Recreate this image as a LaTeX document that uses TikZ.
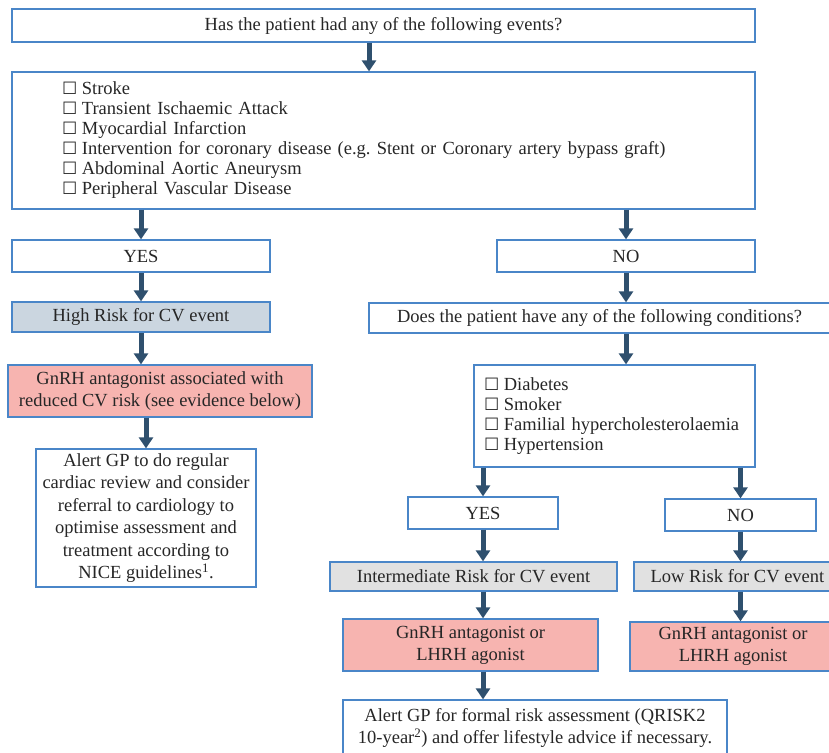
\documentclass[tikz,border=0pt]{standalone}
\usepackage{fontspec}
\setmainfont{Liberation Serif}
\newfontfamily\ballotfont{DejaVu Sans}[Scale=0.92]
\usepackage{xcolor}
\usepackage{tikz}
\usetikzlibrary{arrows.meta}

\definecolor{edgeblue}{HTML}{4A86C8}
\definecolor{flowblue}{HTML}{2F506E}
\definecolor{highfill}{HTML}{CBD6E0}
\definecolor{drugfill}{HTML}{F7B4B0}
\definecolor{midfill}{HTML}{E1E1E1}
\newcommand{\cbx}{{\ballotfont\char"2610}\hspace{0.25em}}
\frenchspacing

\begin{document}
\begin{tikzpicture}[x=1pt, y=-1pt,
    font=\fontsize{18.5}{22}\selectfont,
    box/.style={draw=edgeblue, line width=1.3pt, inner sep=0pt, text=black!85, align=center},
    listbox/.style={box, align=left, font=\fontsize{18.5}{20}\selectfont},
    flow/.style={-{Triangle[length=11pt,width=14pt]}, draw=flowblue, line width=5pt}]
  \useasboundingbox (0,0) rectangle (829,752);
  % left branch: previous events
  \node[box, minimum width=743, minimum height=33] (q1) at (383.5,25.5)
        {Has the patient had any of the following events?};
  \node[listbox, inner xsep=50pt, text width=643pt, minimum height=137] (events) at (383.5,140.5)
        {\cbx Stroke\\
         \cbx Transient Ischaemic Attack\\
         \cbx Myocardial Infarction\\
         \cbx Intervention for coronary disease (e.g. Stent or Coronary artery bypass graft)\\
         \cbx Abdominal Aortic Aneurysm\\
         \cbx Peripheral Vascular Disease};
  \node[box, minimum width=258, minimum height=32] (yes1) at (141,256) {YES};
  \node[box, minimum width=258, minimum height=32] (no1) at (626,256) {NO};
  \node[box, fill=highfill, minimum width=258, minimum height=30] (high) at (141,317)
        {High Risk for CV event};
  \node[box, fill=drugfill, minimum width=304, minimum height=52] (gnrh1) at (160,391)
        {GnRH antagonist associated with\\reduced CV risk (see evidence below)};
  \node[box, minimum width=220, minimum height=138, font=\fontsize{18.5}{22.5}\selectfont] (alert1) at (146,518)
        {Alert GP to do regular\\cardiac review and consider\\referral to cardiology to\\optimise assessment and\\treatment according to\\NICE guidelines\textsuperscript{1}.};
  % right branch: risk factors
  \node[box, minimum width=461, minimum height=30] (q2) at (599.5,318)
        {Does the patient have any of the following conditions?};
  \node[listbox, inner xsep=10pt, text width=261pt, minimum height=102] (cond) at (614.5,416)
        {\cbx Diabetes\\
         \cbx Smoker\\
         \cbx Familial hypercholesterolaemia\\
         \cbx Hypertension};
  \node[box, minimum width=150, minimum height=32] (yes2) at (483,513) {YES};
  \node[box, minimum width=151, minimum height=32] (no2) at (740.5,515) {NO};
  \node[box, fill=midfill, minimum width=287, minimum height=29] (inter) at (473.5,576.5)
        {Intermediate Risk for CV event};
  \node[box, fill=midfill, minimum width=207, minimum height=29] (low) at (737.5,576.5)
        {Low Risk for CV event};
  \node[box, fill=drugfill, minimum width=255, minimum height=52] (gnrh2) at (470.5,645)
        {GnRH antagonist or\\LHRH agonist};
  \node[box, fill=drugfill, minimum width=206, minimum height=49] (gnrh3) at (733,646.5)
        {GnRH antagonist or\\LHRH agonist};
  \node[box, minimum width=384, minimum height=56] (alert2) at (535,728)
        {Alert GP for formal risk assessment (QRISK2\\10-year\textsuperscript{2}) and offer lifestyle advice if necessary.};
  \coordinate (col1) at (369,0);

  \draw[flow] (q1.south -| col1) -- (events.north -| col1);
  \draw[flow] (yes1.north |- events.south) -- (yes1.north);
  \draw[flow] (no1.north |- events.south) -- (no1.north);
  \draw[flow] (yes1.south) -- (high.north);
  \draw[flow] (high.south) -- (high.south |- gnrh1.north);
  \draw[flow] (alert1.north |- gnrh1.south) -- (alert1.north);
  \draw[flow] (no1.south) -- (no1.south |- q2.north);
  \draw[flow] (no1.south |- q2.south) -- (no1.south |- cond.north);
  \draw[flow] (yes2.north |- cond.south) -- (yes2.north);
  \draw[flow] (no2.north |- cond.south) -- (no2.north);
  \draw[flow] (yes2.south) -- (yes2.south |- inter.north);
  \draw[flow] (yes2.south |- inter.south) -- (yes2.south |- gnrh2.north);
  \draw[flow] (yes2.south |- gnrh2.south) -- (yes2.south |- alert2.north);
  \draw[flow] (no2.south) -- (no2.south |- low.north);
  \draw[flow] (no2.south |- low.south) -- (no2.south |- gnrh3.north);
\end{tikzpicture}
\end{document}
